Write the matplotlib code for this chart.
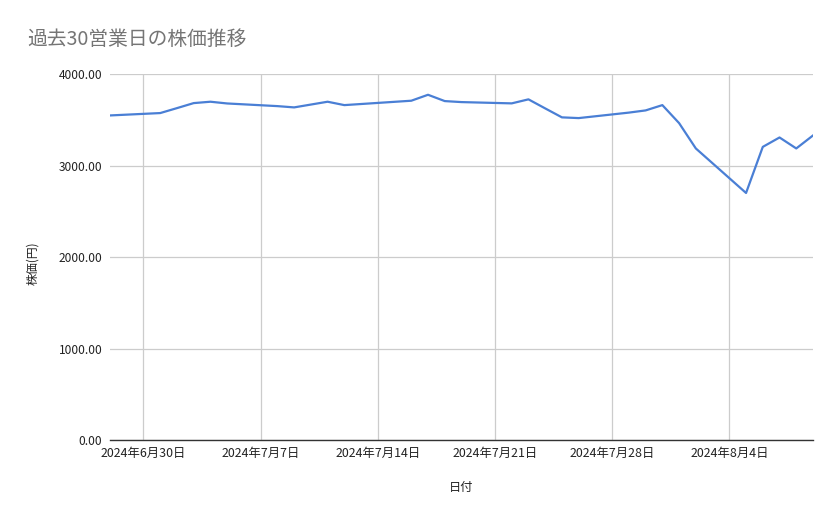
import matplotlib
matplotlib.use("Agg")
import matplotlib.pyplot as plt
import pandas as pd

plt.rcParams['font.family'] = ['Noto Sans CJK JP', 'DejaVu Sans']

dates = ["2024-06-28", "2024-07-01", "2024-07-02", "2024-07-03", "2024-07-04", "2024-07-05",
         "2024-07-08", "2024-07-09", "2024-07-10", "2024-07-11", "2024-07-12",
         "2024-07-16", "2024-07-17", "2024-07-18", "2024-07-19",
         "2024-07-22", "2024-07-23", "2024-07-24", "2024-07-25", "2024-07-26",
         "2024-07-29", "2024-07-30", "2024-07-31", "2024-08-01", "2024-08-02",
         "2024-08-05", "2024-08-06", "2024-08-07", "2024-08-08", "2024-08-09"]
prices = [3550, 3576, 3630, 3685, 3700, 3681,
          3652, 3638, 3669, 3700, 3663,
          3711, 3776, 3707, 3696,
          3682, 3726, 3627, 3529, 3521,
          3581, 3605, 3663, 3466, 3189,
          2702, 3206, 3309, 3189, 3331]
tick_dates = ["2024-06-30", "2024-07-07", "2024-07-14", "2024-07-21", "2024-07-28", "2024-08-04"]
tick_labels = ["2024年6月30日", "2024年7月7日", "2024年7月14日", "2024年7月21日", "2024年7月28日", "2024年8月4日"]
y_ticks = [0, 1000, 2000, 3000, 4000]

x = pd.to_datetime(dates)
xt = pd.to_datetime(tick_dates)

fig = plt.figure(figsize=(8.39, 5.19), dpi=100)
ax = fig.add_axes([110/839, 1-440/519, (813-110)/839, (440-74.3)/519])

ax.plot(x, prices, color='#4a7fd5', linewidth=1.6, zorder=3)

ax.set_xlim(x[0], x[-1])
ax.set_ylim(0, 4000)
ax.set_yticks(y_ticks)
ax.set_yticklabels([f"{v:.2f}" for v in y_ticks])
ax.set_xticks(xt)
ax.set_xticklabels(tick_labels)

ax.grid(True, color='#cccccc', linewidth=0.9)
ax.set_axisbelow(True)
for s in ['top', 'right', 'left']:
    ax.spines[s].set_visible(False)
ax.spines['bottom'].set_color('#333333')
ax.spines['bottom'].set_linewidth(1.0)
ax.tick_params(axis='both', length=0, labelcolor='#222222')
ax.tick_params(axis='y', pad=5.5, labelsize=8.6)
ax.tick_params(axis='x', pad=5, labelsize=8.9)

fig.text(461/839, 1-487/519, "日付", fontsize=8.8, color='#222222', ha='center', va='center')
fig.text(33/839, 1-263/519, "株価(円)", fontsize=8.6, color='#222222', ha='center', va='center',
         rotation=90)

fig.text(27/839, 1-39/519, "過去30営業日の株価推移", fontsize=14.2, color='#757575',
         ha='left', va='center')

fig.savefig("out.png", dpi=100, facecolor='white')
